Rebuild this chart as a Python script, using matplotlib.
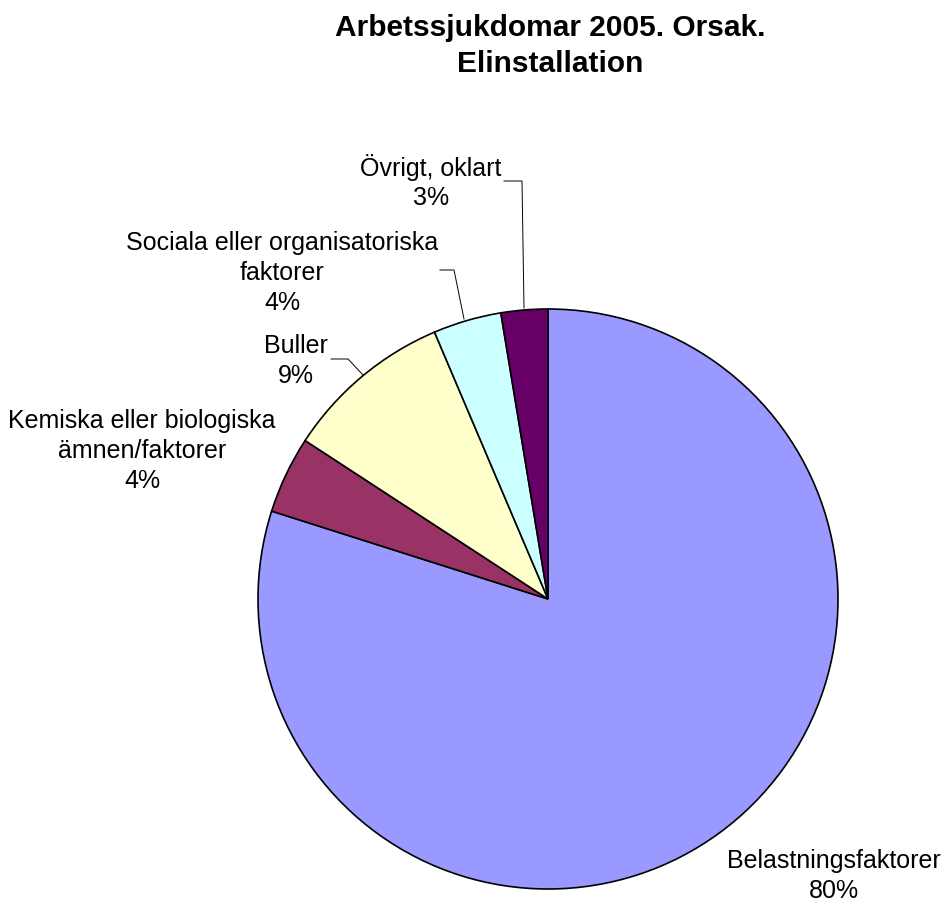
import matplotlib.pyplot as plt

plt.rcParams['font.family'] = ['Liberation Sans', 'DejaVu Sans']

labels = ['Belastningsfaktorer', 'Kemiska eller biologiska\nämnen/faktorer', 'Buller',
          'Sociala eller organisatoriska\nfaktorer', 'Övrigt, oklart']
values = [79.9, 4.3, 9.4, 3.8, 2.6]
colors = ['#9999FF', '#993366', '#FFFFCC', '#CCFFFF', '#660066']

# label block centres and leader lines, in pixel coords of the 943x904 image
label_px = [(834, 876), (142, 451), (296, 361), (282, 273), (431, 182)]
leaders_px = [None, None,
              [(331, 360), (348, 360), (363, 376)],
              [(440, 271), (454, 271), (464, 320)],
              [(504, 182), (522, 182), (524, 309)]]

W, H = 943, 904
cx, cy, r = 548, 600, 290


def to_data(px, py):
    return (px - cx) / r, (cy - py) / r


fig = plt.figure(figsize=(W / 100, H / 100), dpi=100)
ax = fig.add_axes([(cx - r) / W, (H - cy - r) / H, 2 * r / W, 2 * r / H])
ax.pie(values, colors=colors, startangle=90, counterclock=False, radius=1,
       wedgeprops=dict(edgecolor='black', linewidth=1.2))
ax.set_xlim(-1, 1)
ax.set_ylim(-1, 1)
ax.set_aspect('equal')
ax.axis('off')

total = sum(values)
for lab, v, pos, lead in zip(labels, values, label_px, leaders_px):
    x, y = to_data(*pos)
    ax.text(x, y, f"{lab}\n{round(v / total * 100):.0f}%", ha='center', va='center',
            fontsize=18, linespacing=1.3, clip_on=False)
    if lead:
        pts = [to_data(*p) for p in lead]
        ax.plot([p[0] for p in pts], [p[1] for p in pts], color='black', lw=0.7,
                clip_on=False)

fig.text(550 / W, 1 - 46 / H, 'Arbetssjukdomar 2005. Orsak.\nElinstallation', ha='center',
         va='center', fontsize=21.5, fontweight='bold', linespacing=1.4)

fig.savefig('out.png', dpi=100)
